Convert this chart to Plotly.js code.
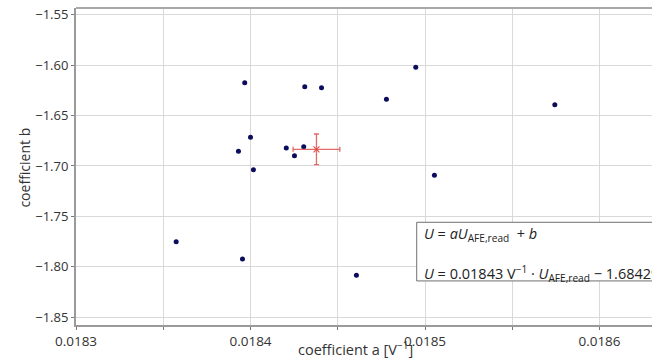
<!DOCTYPE html>
<html>
<head>
<meta charset="utf-8">
<script src="https://cdn.plot.ly/plotly-3.0.1.min.js"></script>
<style>html,body{margin:0;padding:0;background:#fff;}#chart{width:652px;height:361px;}</style>
</head>
<body>
<div id="chart"></div>
<script>
// Calibration coefficients per device
const coefA = [0.0183967, 0.0184311, 0.0184407, 0.0184779, 0.0184947, 0.0184000, 0.0183931, 0.0184205,
               0.0184305, 0.0184252, 0.0184017, 0.0185054, 0.0185744, 0.0183574, 0.0183954, 0.0184607];
const coefB = [-1.6174, -1.6214, -1.6224, -1.6339, -1.6022, -1.6716, -1.6854, -1.6822,
               -1.6809, -1.6898, -1.7037, -1.7092, -1.6392, -1.7751, -1.7922, -1.8084];
// Mean with uncertainty
const meanA = [0.0184378];
const meanB = [-1.6835];
const errA = [0.0000134];
const errB = [0.0152];

const xTickVals = [0.0183, 0.0184, 0.0185, 0.0186];
const xTickText = ['0.0183', '0.0184', '0.0185', '0.0186'];
const yTickVals = [-1.85, -1.80, -1.75, -1.70, -1.65, -1.60, -1.55];
const yTickText = ['\u22121.85', '\u22121.80', '\u22121.75', '\u22121.70', '\u22121.65', '\u22121.60', '\u22121.55'];

const fontFam = '"Open Sans", "Noto Sans", sans-serif';

const traces = [
  {
    x: coefA, y: coefB, type: 'scatter', mode: 'markers',
    marker: {color: '#0c0c5c', size: 5},
    name: 'devices', showlegend: false, cliponaxis: false
  },
  {
    x: meanA, y: meanB, type: 'scatter', mode: 'markers',
    marker: {color: '#e0504c', size: 6, symbol: 'x-thin', line: {color: '#e0504c', width: 1.2}},
    error_x: {type: 'data', array: errA, visible: true, color: '#e06a66', thickness: 1.3, width: 2.5},
    error_y: {type: 'data', array: errB, visible: true, color: '#e06a66', thickness: 1.3, width: 2.5},
    name: 'mean', showlegend: false
  }
];

const layout = {
  width: 652, height: 361,
  margin: {l: 76, r: 0, t: 8, b: 36},
  paper_bgcolor: '#fff', plot_bgcolor: '#fff',
  font: {family: fontFam, size: 13.5, color: '#333'},
  showlegend: false,
  xaxis: {
    range: [0.0183, 0.01863009],
    tickvals: xTickVals, ticktext: xTickText,
    ticks: 'outside', ticklen: 3, tickcolor: '#777', tickwidth: 1,
    showgrid: true, gridcolor: '#d9d9d9', gridwidth: 1,
    minor: {dtick: 0.00005, tick0: 0.0183, showgrid: true, gridcolor: '#d9d9d9', ticks: 'outside', ticklen: 3, tickcolor: '#777'},
    showline: true, linecolor: '#9a9a9a', linewidth: 2, mirror: false,
    zeroline: false,
    tickfont: {size: 13.5, color: '#333'}
  },
  yaxis: {
    range: [-1.8577, -1.54336],
    tickvals: yTickVals, ticktext: yTickText,
    ticks: 'outside', ticklen: 3, tickcolor: '#777',
    showgrid: true, gridcolor: '#d9d9d9', gridwidth: 1,
    showline: true, linecolor: '#9a9a9a', linewidth: 2,
    zeroline: false,
    tickfont: {size: 13, color: '#333'}
  },
  shapes: [
    {type: 'line', xref: 'paper', yref: 'paper', x0: 0, x1: 1, y0: 1, y1: 1, line: {color: '#a8a8a8', width: 2}},
    {type: 'rect', xref: 'paper', yref: 'paper', x0: 0.5915, x1: 1.05, y0: 0.324, y1: 0.139,
     line: {color: '#707070', width: 1}, fillcolor: '#ffffff', layer: 'above'}
  ],
  annotations: [
    {xref: 'paper', yref: 'paper', x: 0.4844, y: -0.074, xanchor: 'center', yanchor: 'middle', showarrow: false,
     text: 'coefficient a [V<sup>\u22121</sup>]', font: {size: 14.5, color: '#333'}},
    {xref: 'paper', yref: 'paper', x: -0.0895, y: 0.498, xanchor: 'center', yanchor: 'middle', showarrow: false,
     textangle: -90, text: 'coefficient b', font: {size: 14, color: '#333'}},
    {xref: 'paper', yref: 'paper', x: 0.6015, y: 0.284, xanchor: 'left', yanchor: 'middle', showarrow: false, align: 'left',
     text: '<i>U</i> = <i>aU</i><sub>AFE,read</sub>  + <i>b</i>', font: {size: 14.5, color: '#222'}},
    {xref: 'paper', yref: 'paper', x: 0.6015, y: 0.164, xanchor: 'left', yanchor: 'middle', showarrow: false, align: 'left',
     text: '<i>U</i> = 0.01843 V<sup>\u22121</sup> \u00b7 <i>U</i><sub>AFE,read</sub> \u2212 1.68429', font: {size: 14.5, color: '#222'}}
  ]
};

Plotly.newPlot('chart', traces, layout, {displayModeBar: false, staticPlot: true});
</script>
</body>
</html>
